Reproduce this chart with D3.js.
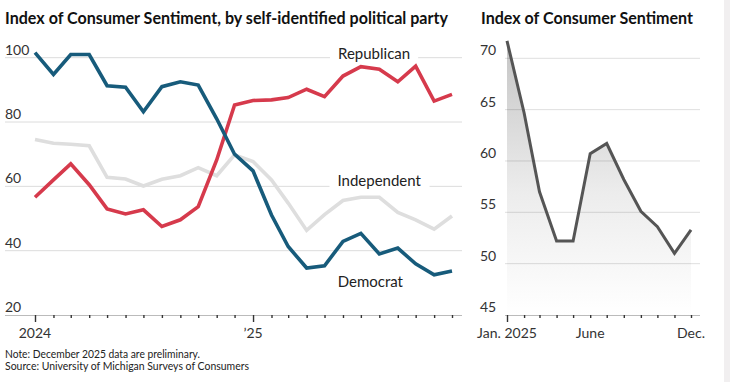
<!DOCTYPE html>
<html>
<head>
<meta charset="utf-8">
<script src="https://cdn.jsdelivr.net/npm/d3@7"></script>
<style>
  body { margin: 0; background: #fff; }
  svg { display: block; font-family: Lato, "Noto Sans", sans-serif; }
</style>
</head>
<body>
<svg width="730" height="382"></svg>
<script>
// left panel: sentiment by party, Jan 2024 - Dec 2025
const partyMonths = ["2024-01","2024-02","2024-03","2024-04","2024-05","2024-06",
    "2024-07","2024-08","2024-09","2024-10","2024-11","2024-12",
    "2025-01","2025-02","2025-03","2025-04","2025-05","2025-06",
    "2025-07","2025-08","2025-09","2025-10","2025-11","2025-12"]
const democrat = [101.6, 94.8, 101.0, 101.0, 91.3, 90.8, 83.2, 91.0, 92.5, 91.5, 81.0, 70.0,
    64.8, 51.1, 41.3, 34.6, 35.3, 42.9, 45.4, 39.0, 40.8, 35.9, 32.5, 33.7]
const republican = [56.6, 62.0, 67.0, 60.5, 53.0, 51.4, 52.7, 47.5, 49.6, 53.7, 68.2, 85.3,
    86.7, 86.9, 87.6, 90.2, 87.9, 94.3, 97.2, 96.4, 92.5, 97.4, 86.5, 88.6]
const independent = [74.6, 73.4, 73.1, 72.6, 62.8, 62.3, 60.1, 62.2, 63.3, 65.8, 63.3, 69.8,
    67.7, 62.0, 54.8, 46.3, 51.2, 55.6, 56.6, 56.6, 51.9, 49.6, 46.7, 50.8]
const partyTicks = [20, 40, 60, 80, 100]

// right panel: overall index, 2025
const overallMonths = ["2025-01","2025-02","2025-03","2025-04","2025-05","2025-06",
    "2025-07","2025-08","2025-09","2025-10","2025-11","2025-12"]
const overall = [71.7, 64.7, 57.0, 52.2, 52.2, 60.7, 61.7, 58.2, 55.1, 53.6, 51.0, 53.3]
const overallTicks = [45, 50, 55, 60, 65, 70]
const overallLabels = { "2025-01": "Jan. 2025", "2025-06": "June", "2025-12": "Dec." }

const parse = d3.timeParse("%Y-%m")
const svg = d3.select("svg")

// faint edge of the next graphic
svg.append("rect").attr("x", 724).attr("y", 0).attr("width", 6).attr("height", 382)
    .attr("fill", "#f1eff0")

// titles
svg.append("text").attr("x", 5).attr("y", 23.5)
    .attr("font-size", 17).attr("font-weight", 700).attr("fill", "#111")
    .attr("textLength", 443).attr("lengthAdjust", "spacingAndGlyphs")
    .text("Index of Consumer Sentiment, by self-identified political party")
svg.append("text").attr("x", 481).attr("y", 23.5)
    .attr("font-size", 17).attr("font-weight", 700).attr("fill", "#111")
    .attr("textLength", 212).attr("lengthAdjust", "spacingAndGlyphs")
    .text("Index of Consumer Sentiment")

// ---------- left panel ----------
const x1 = d3.scaleTime()
    .domain([parse(partyMonths[0]), parse(partyMonths[partyMonths.length - 1])])
    .range([35, 452])
const y1 = d3.scaleLinear().domain([20, 100]).range([315, 57.7])

const left = svg.append("g")

left.selectAll(".grid").data(partyTicks.filter(d => d > 20)).join("line")
    .attr("x1", 5).attr("x2", 462)
    .attr("y1", d => y1(d)).attr("y2", d => y1(d))
    .attr("stroke", "#dcdcdc").attr("stroke-width", 1)

left.selectAll(".ylab").data(partyTicks).join("text")
    .attr("x", 5).attr("y", d => y1(d) - 3)
    .attr("font-size", 14).attr("fill", "#333")
    .text(d => d)

// x axis
const xAxis1 = d3.axisBottom(x1)
    .tickValues(partyMonths.map(parse))
    .tickSize(3)
    .tickFormat("")
const ax1 = left.append("g").attr("transform", "translate(0,315)").call(xAxis1)
ax1.select(".domain").attr("d", "M5,0.5H462").attr("stroke", "#bbb")
ax1.selectAll(".tick line").attr("stroke", "#333").attr("stroke-width", 1.4)
    .attr("y2", d => d.getMonth() === 0 ? 7 : 3)
left.selectAll(".xlab").data(["2024-01", "2025-01"]).join("text")
    .attr("x", d => x1(parse(d))).attr("y", 338)
    .attr("text-anchor", "middle").attr("font-size", 14).attr("fill", "#333")
    .text(d => d === "2024-01" ? "2024" : "\u201925")

// series labels with white knockouts
const seriesLabels = [
    { name: "Republican", x: 338, y: 59.3 },
    { name: "Independent", x: 337.5, y: 185.7 },
    { name: "Democrat", x: 337.7, y: 286.7 }
]
seriesLabels.forEach(l => {
    const t = left.append("text").attr("x", l.x).attr("y", l.y)
        .attr("font-size", 15).attr("fill", "#222").text(l.name)
    const b = t.node().getBBox()
    left.insert("rect", "text")
        .attr("x", b.x - 8).attr("y", b.y + 2)
        .attr("width", b.width + 16).attr("height", b.height - 2)
        .attr("fill", "#fff")
})

const line1 = d3.line()
    .x((d, i) => x1(parse(partyMonths[i])))
    .y(d => y1(d))

const series = [
    { values: independent, color: "#dedede" },
    { values: republican, color: "#d63a4c" },
    { values: democrat, color: "#175b7b" }
]
series.forEach(s => {
    left.append("path").datum(s.values)
        .attr("d", line1)
        .attr("fill", "none")
        .attr("stroke", s.color)
        .attr("stroke-width", 3.6)
        .attr("stroke-linejoin", "miter")
})

// ---------- right panel ----------
const x2 = d3.scaleTime()
    .domain([parse(overallMonths[0]), parse(overallMonths[overallMonths.length - 1])])
    .range([507, 691])
const y2 = d3.scaleLinear().domain([45, 70]).range([315, 58.3])

const right = svg.append("g")

const grad = svg.append("defs").append("linearGradient")
    .attr("id", "fade").attr("gradientUnits", "userSpaceOnUse")
    .attr("x1", 0).attr("y1", 40).attr("x2", 0).attr("y2", 315)
grad.append("stop").attr("offset", 0).attr("stop-color", "#c4c4c4")
grad.append("stop").attr("offset", 0.55).attr("stop-color", "#ececec")
grad.append("stop").attr("offset", 1).attr("stop-color", "#ffffff")

const area2 = d3.area()
    .x((d, i) => x2(parse(overallMonths[i])))
    .y0(y2(45))
    .y1(d => y2(d))
right.append("path").datum(overall)
    .attr("d", area2).attr("fill", "url(#fade)")

right.selectAll(".grid").data(overallTicks.filter(d => d > 45)).join("line")
    .attr("x1", 505).attr("x2", 700)
    .attr("y1", d => y2(d)).attr("y2", d => y2(d))
    .attr("stroke", "rgba(0,0,0,0.13)").attr("stroke-width", 1)

right.selectAll(".ylab").data(overallTicks).join("text")
    .attr("x", 480).attr("y", d => y2(d) - 3)
    .attr("font-size", 14).attr("fill", "#333")
    .text(d => d)

const xAxis2 = d3.axisBottom(x2)
    .tickValues(overallMonths.map(parse))
    .tickSize(3)
    .tickFormat("")
const ax2 = right.append("g").attr("transform", "translate(0,315)").call(xAxis2)
ax2.select(".domain").attr("d", "M505,0.5H700").attr("stroke", "#bbb")
ax2.selectAll(".tick line").attr("stroke", "#333").attr("stroke-width", 1.4)
    .attr("y2", d => d.getMonth() === 0 ? 7 : 3)
right.selectAll(".xlab").data(Object.keys(overallLabels)).join("text")
    .attr("x", d => x2(parse(d))).attr("y", 337.5)
    .attr("text-anchor", "middle").attr("font-size", 14).attr("fill", "#333")
    .text(d => overallLabels[d])

const line2 = d3.line()
    .x((d, i) => x2(parse(overallMonths[i])))
    .y(d => y2(d))
right.append("path").datum(overall)
    .attr("d", line2)
    .attr("fill", "none")
    .attr("stroke", "#555")
    .attr("stroke-width", 3)

// notes
svg.append("text").attr("x", 5).attr("y", 358)
    .attr("font-size", 10.5).attr("fill", "#222")
    .attr("textLength", 195).attr("lengthAdjust", "spacingAndGlyphs")
    .text("Note: December 2025 data are preliminary.")
svg.append("text").attr("x", 5).attr("y", 369.5)
    .attr("font-size", 10.5).attr("fill", "#222")
    .attr("textLength", 244).attr("lengthAdjust", "spacingAndGlyphs")
    .text("Source: University of Michigan Surveys of Consumers")
</script>
</body>
</html>
